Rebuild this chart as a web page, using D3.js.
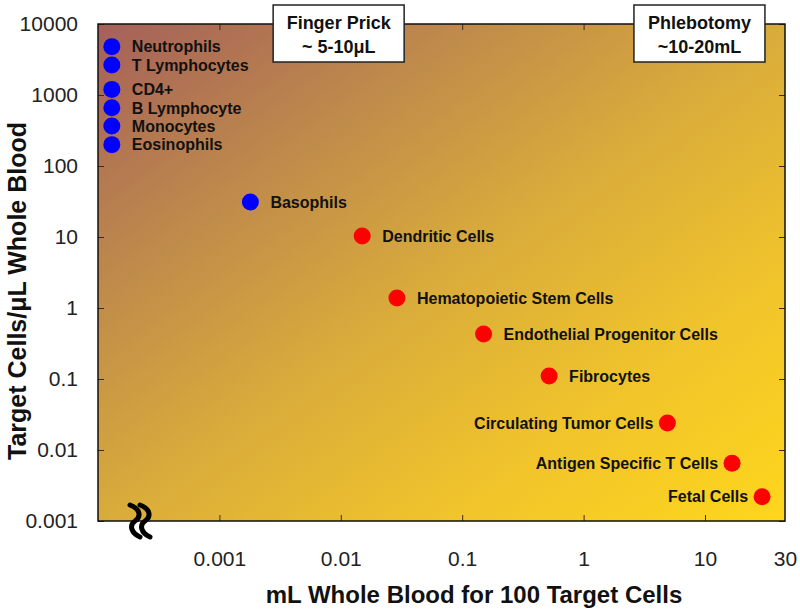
<!DOCTYPE html>
<html>
<head>
<meta charset="utf-8">
<script src="https://cdn.jsdelivr.net/npm/d3@7"></script>
<style>
  body { margin: 0; background: #fff; }
  svg { display: block; font-family: 'Liberation Sans', Arial, sans-serif; }
</style>
</head>
<body>
<div id="chart"></div>
<script>
// cell types
let cellNames = ['Neutrophils', 'T Lymphocytes', 'CD4+', 'B Lymphocyte', 'Monocytes', 'Eosinophils',
  'Basophils', 'Dendritic Cells', 'Hematopoietic Stem Cells', 'Endothelial Progenitor Cells',
  'Fibrocytes', 'Circulating Tumor Cells', 'Antigen Specific T Cells', 'Fetal Cells']
let cellsPerUL = [4800, 2650, 1200, 660, 365, 200, 31, 10.3, 1.38, 0.43, 0.11, 0.024, 0.0065, 0.0022]
let mlFor100 = [1.3e-4, 1.3e-4, 1.3e-4, 1.3e-4, 1.3e-4, 1.3e-4, 0.0018, 0.015, 0.029, 0.15, 0.52, 4.9, 14.5, 21.9]
let cellGroup = ['common', 'common', 'common', 'common', 'common', 'common', 'common',
  'rare', 'rare', 'rare', 'rare', 'rare', 'rare', 'rare']

let yTicks = [0.001, 0.01, 0.1, 1, 10, 100, 1000, 10000]
let xTicks = [0.001, 0.01, 0.1, 1, 10, 30]
let xInnerTicks = [0.001, 0.01, 0.1, 1, 10]

// sampling volume annotations (mL)
let sampleLabels = [['Finger Prick', '~ 5-10\u03bcL'], ['Phlebotomy', '~10-20mL']]
let sampleVolumes = [0.0096, 9]

let margin = {top: 24, right: 15, bottom: 92, left: 98}
let width = 800 - margin.left - margin.right
let height = 613 - margin.top - margin.bottom

let svg = d3.select('#chart')
  .append('svg')
  .attr('width', 800)
  .attr('height', 613)

// background gradient
let defs = svg.append('defs')
let grad = defs.append('linearGradient')
  .attr('id', 'bg')
  .attr('x1', 0).attr('y1', 0).attr('x2', 1).attr('y2', 1)
let stops = [[0, '#a5605a'], [0.28, '#c08c4a'], [0.5, '#d9ab3b'], [0.75, '#f0c42b'], [1, '#ffd61c']]
stops.forEach(function(s) {
  grad.append('stop').attr('offset', s[0]).attr('stop-color', s[1])
})

let g = svg.append('g').attr('transform', `translate(${margin.left},${margin.top})`)

// the x axis is broken on the left, the last decade ends at 30
let x = d3.scaleLog().domain([1e-4, 10, 30]).range([0, 607, width])
let y = d3.scaleLog().domain([0.001, 10000]).range([height, 0])
let color = d3.scaleOrdinal().domain(['common', 'rare']).range(['#0000ff', '#ff0000'])

g.append('rect')
  .attr('width', width)
  .attr('height', height)
  .attr('fill', 'url(#bg)')

let fmt = function(d) { return String(d) }

// axes with inward ticks
let yAxis = g.append('g')
  .call(d3.axisLeft(y).tickValues(yTicks).tickFormat(fmt).tickSizeInner(-6).tickSizeOuter(0).tickPadding(20))
let yAxisR = g.append('g')
  .attr('transform', `translate(${width},0)`)
  .call(d3.axisRight(y).tickValues(yTicks).tickFormat('').tickSizeInner(-6).tickSizeOuter(0))
let xAxis = g.append('g')
  .attr('transform', `translate(0,${height})`)
  .call(d3.axisBottom(x).tickValues(xTicks).tickFormat(fmt).tickSizeInner(-6).tickSizeOuter(0).tickPadding(30))
let xAxisT = g.append('g')
  .call(d3.axisTop(x).tickValues(xInnerTicks).tickFormat('').tickSizeInner(-6).tickSizeOuter(0))

;[yAxis, yAxisR, xAxis, xAxisT].forEach(function(a) {
  a.select('.domain').remove()
  a.selectAll('.tick line').attr('stroke', '#3a2a20')
  a.selectAll('text')
    .attr('font-family', "'Liberation Sans', Arial, sans-serif")
    .attr('font-size', 21)
    .attr('fill', '#222')
})
xAxis.selectAll('.tick').filter(function(d) { return d === 30 }).select('line').remove()

// plot border
g.append('rect')
  .attr('width', width)
  .attr('height', height)
  .attr('fill', 'none')
  .attr('stroke', '#111')
  .attr('stroke-width', 1.5)

// axis break marks
let breakX = [37, 47]
g.selectAll('.break')
  .data(breakX)
  .enter()
  .append('path')
  .attr('class', 'break')
  .attr('d', function(d) {
    let t = height
    return `M${d - 5},${t - 16} C${d + 6},${t - 12} ${d + 6},${t - 4} ${d},${t} C${d - 6},${t + 4} ${d - 4},${t + 12} ${d + 5},${t + 16}`
  })
  .attr('fill', 'none')
  .attr('stroke', '#000')
  .attr('stroke-width', 5)
  .attr('stroke-linecap', 'round')

// points
let points = cellNames.map(function(name, i) {
  return {name: name, cells: cellsPerUL[i], ml: mlFor100[i], group: cellGroup[i]}
})

let node = g.selectAll('.node')
  .data(points)
  .enter()
  .append('g')
  .attr('class', 'node')
  .attr('transform', function(d) { return `translate(${x(d.ml)},${y(d.cells)})` })

node.append('circle')
  .attr('r', 8.5)
  .attr('fill', function(d) { return color(d.group) })

node.append('text')
  .attr('x', function(d) { return d.ml >= 1 ? -14 : 20 })
  .attr('dy', '0.36em')
  .attr('text-anchor', function(d) { return d.ml >= 1 ? 'end' : 'start' })
  .attr('font-size', 16)
  .attr('font-weight', 'bold')
  .attr('fill', '#111')
  .text(function(d) { return d.name })

// sampling boxes
let boxW = 131
let boxH = 57
let box = svg.selectAll('.sample')
  .data(sampleLabels)
  .enter()
  .append('g')
  .attr('class', 'sample')
  .attr('transform', function(d, i) { return `translate(${margin.left + x(sampleVolumes[i])},5)` })

box.append('rect')
  .attr('x', -boxW / 2)
  .attr('width', boxW)
  .attr('height', boxH)
  .attr('fill', '#fff')
  .attr('stroke', '#222')
  .attr('stroke-width', 1.5)

box.selectAll('text')
  .data(function(d) { return d })
  .enter()
  .append('text')
  .attr('y', function(d, i) { return 24 + i * 24 })
  .attr('text-anchor', 'middle')
  .attr('font-size', 18)
  .attr('font-weight', 'bold')
  .attr('fill', '#111')
  .text(function(d) { return d })

// axis titles
svg.append('text')
  .attr('x', 474)
  .attr('y', 603)
  .attr('text-anchor', 'middle')
  .attr('font-size', 24)
  .attr('font-weight', 'bold')
  .attr('fill', '#111')
  .text('mL Whole Blood for 100 Target Cells')

svg.append('text')
  .attr('transform', 'translate(26,291) rotate(-90)')
  .attr('text-anchor', 'middle')
  .attr('font-size', 25)
  .attr('font-weight', 'bold')
  .attr('fill', '#111')
  .text('Target Cells/\u03bcL Whole Blood')
</script>
</body>
</html>
